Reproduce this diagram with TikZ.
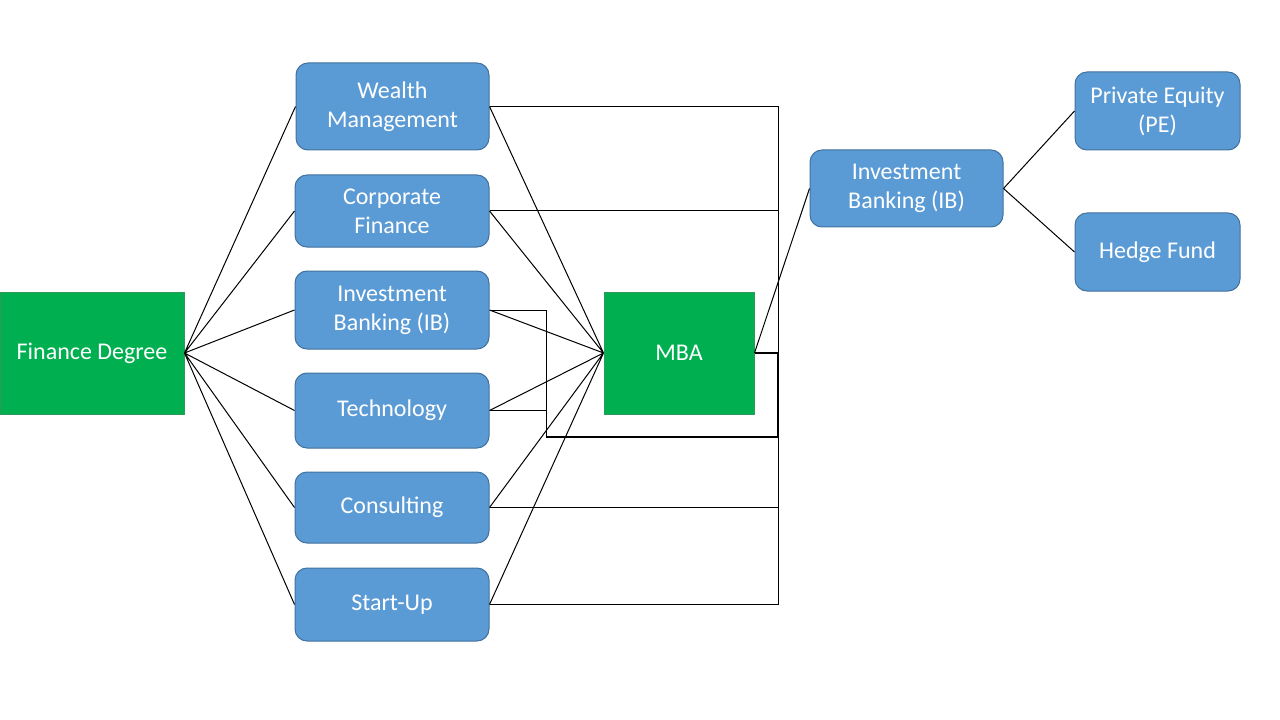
\documentclass[tikz,border=0pt]{standalone}
\usepackage{fontspec}
\setmainfont{Carlito}
\usepackage{tikz}
\usepackage{xcolor}
\usetikzlibrary{
    calc,
    positioning
}
\definecolor{degreegreen}{HTML}{00B050}
\definecolor{degreeline}{HTML}{2E9A5A}
\definecolor{jobblue}{HTML}{5B9BD5}
\definecolor{jobline}{HTML}{41719C}
\tikzset{
    degree/.style={draw=degreeline, fill=degreegreen, text=white, align=center,
        line width=0.75pt, font=\fontsize{18}{21.8}\selectfont},
    job/.style={draw=jobline, fill=jobblue, text=white, align=center,
        rounded corners=9pt, line width=0.75pt, font=\fontsize{18}{21.8}\selectfont},
    link/.style={draw=black, line width=0.75pt}
}

\begin{document}
\begin{tikzpicture}[x=0.75pt, y=-0.75pt]
                        \useasboundingbox (0, 0) rectangle (1280, 720);
                        \node[degree, minimum width=138pt, minimum height=91.5pt] (fd) at (92, 353) {Finance Degree};
                        \node[degree, minimum width=112.5pt, minimum height=91.5pt] (mba) at (679, 353) {MBA};
                        \node[job, minimum width=144.75pt, minimum height=65.25pt] (wm) at (392.5, 106.5) {Wealth\\Management};
                        \node[job, minimum width=145.5pt, minimum height=54pt] (cf) at (392, 211) {Corporate\\Finance};
                        \node[job, minimum width=145.5pt, minimum height=58.5pt] (ib) at (392, 310) {Investment\\Banking (IB)};
                        \node[job, minimum width=145.5pt, minimum height=56.25pt] (te) at (392, 410.5) {Technology};
                        \node[job, minimum width=145.5pt, minimum height=53.25pt] (co) at (392, 507.5) {Consulting};
                        \node[job, minimum width=145.5pt, minimum height=54.75pt] (su) at (392, 604.5) {Start-Up};
                        \node[job, minimum width=144.75pt, minimum height=57.75pt] (ibm) at (906.5, 188.5) {Investment\\Banking (IB)};
                        \node[job, minimum width=123.75pt, minimum height=58.5pt] (pe) at (1157.5, 111) {Private Equity\\(PE)};
                        \node[job, minimum width=123.75pt, minimum height=58.5pt] (hf) at (1157.5, 252) {Hedge Fund};
                        \coordinate (bus) at (778, 353);
                        \coordinate (jog) at (546, 437);
                        \draw[link]
                        (fd.east) -- (wm.west) (fd.east) -- (cf.west)
                        (fd.east) -- (ib.west) (fd.east) -- (te.west)
                        (fd.east) -- (co.west) (fd.east) -- (su.west)
                        (wm.east) -- (mba.west) (cf.east) -- (mba.west)
                        (ib.east) -- (mba.west) (te.east) -- (mba.west)
                        (co.east) -- (mba.west) (su.east) -- (mba.west);
                        \draw[link]
                        (wm.east) -| (bus) (cf.east) -| (bus)
                        (co.east) -| (bus) (su.east) -| (bus)
                        (ib.east) -| (jog) (te.east) -| (jog);
                        \draw[link, line width=1.2pt]
                        (jog) -| (bus)
                        (bus) -- (mba.east);
                        \draw[link]
                        (mba.east) -- (ibm.west)
                        (ibm.east) -- (pe.west) (ibm.east) -- (hf.west);
                    \end{tikzpicture}
\end{document}
